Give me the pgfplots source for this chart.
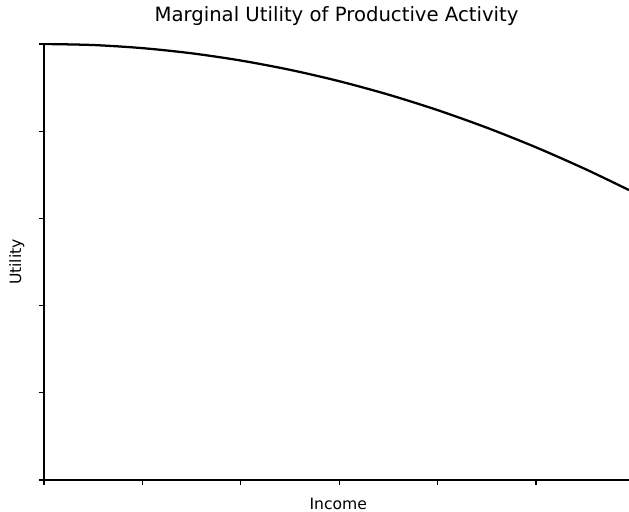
\documentclass[border=0pt]{standalone}
\usepackage{fontspec}
\setmainfont{DejaVu Sans}
\usepackage{pgfplots}
\pgfplotsset{compat=1.18}
\begin{document}
\begin{tikzpicture}
\begin{axis}[
  scale only axis,
  width=438.75pt, height=327pt,
  xmin=0, xmax=5.945, ymin=0, ymax=1,
  axis x line*=bottom, axis y line*=left,
  axis line style={-, line width=0.9pt, black},
  xtick={0,1,2,3,4,5}, ytick={0,0.2,0.4,0.6,0.8,1},
  xticklabels={}, yticklabels={},
  tick align=outside, major tick length=3.8pt,
  tick style={line width=0.9pt, black},
  title={\fontsize{14.75}{17}\selectfont Marginal Utility of Productive Activity},
  title style={at={(axis description cs:0.5,1)}, anchor=base, yshift=10.5pt, inner sep=0pt},
  xlabel={\fontsize{11.7}{14}\selectfont Income},
  xlabel style={at={(axis description cs:0.503,0)}, anchor=base, yshift=-21.75pt, inner sep=0pt},
  ylabel={\fontsize{11.7}{14}\selectfont Utility},
  ylabel style={at={(axis description cs:-0.0393,0.5)}, anchor=base, inner sep=0pt},
  clip=true,
]
\addplot[black, line width=1.7pt, smooth] coordinates {
(0,1.000) (0.5,0.99763) (1,0.99052) (1.5,0.97867) (2,0.96208) (2.5,0.94075)
(3,0.91468) (3.5,0.88387) (4,0.84832) (4.5,0.80803) (5,0.76300) (5.5,0.71323) (5.945,0.6650)
};
\end{axis}
\pgfresetboundingbox
\useasboundingbox ([xshift=-33pt,yshift=-23.25pt]current axis.south west) rectangle ([yshift=33pt]current axis.north east);
\end{tikzpicture}
\end{document}
